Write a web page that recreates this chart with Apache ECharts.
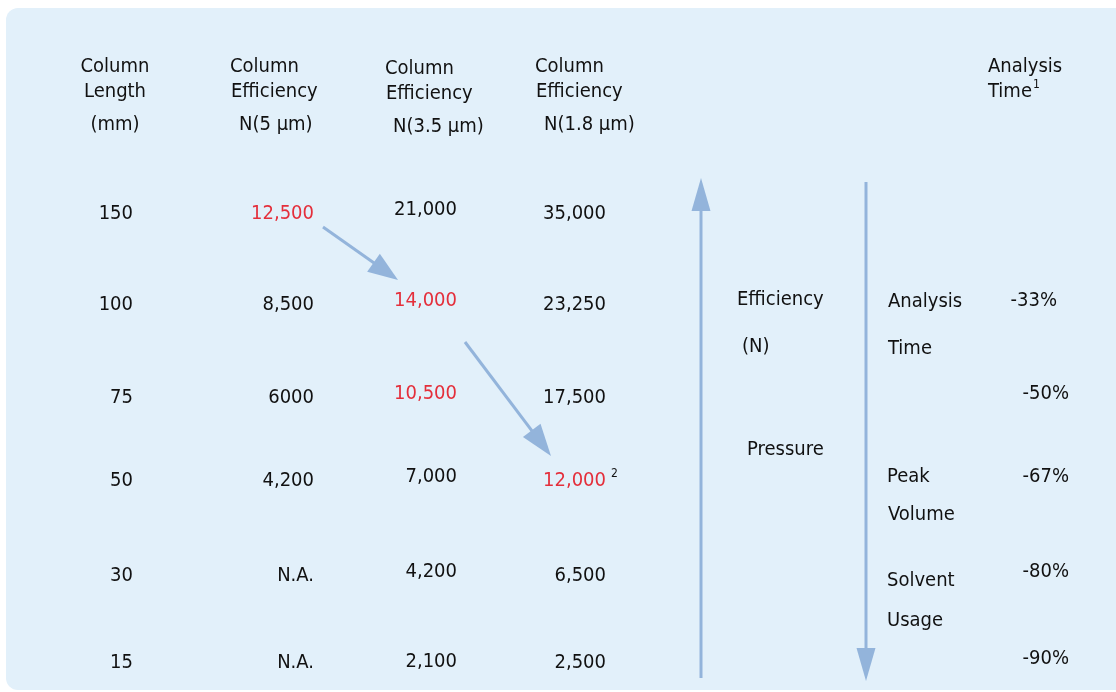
<!DOCTYPE html>
<html>
<head>
<meta charset="utf-8">
<script src="https://cdn.jsdelivr.net/npm/echarts@6/dist/echarts.min.js"></script>
<style>
  html, body { margin: 0; padding: 0; background: #fff; }
  #main { width: 1116px; height: 692px; }
</style>
</head>
<body>
<div id="main"></div>
<script>
// table values
var lengths = ['150', '100', '75', '50', '30', '15'];
var effN5 = ['12,500', '8,500', '6000', '4,200', 'N.A.', 'N.A.'];
var effN35 = ['21,000', '14,000', '10,500', '7,000', '4,200', '2,100'];
var effN18 = ['35,000', '23,250', '17,500', '12,000', '6,500', '2,500'];
var timeSavings = ['-33%', '-50%', '-67%', '-80%', '-90%'];
// which cells are red: [column, row]
var highlighted = [[1, 0], [2, 1], [2, 2], [3, 3]];

var headers = [
    ['Column', 'Length', '(mm)'],
    ['Column', 'Efficiency', 'N(5 \u00b5m)'],
    ['Column', 'Efficiency', 'N(3.5 \u00b5m)'],
    ['Column', 'Efficiency', 'N(1.8 \u00b5m)']
];

// layout (axis units = pixels of the 1116x692 panel)
var rowY = [214, 305, 398, 481, 576, 663];
var headY = [67, 92, 125];
var FONT = '"DejaVu Sans Condensed", "Liberation Sans Narrow", sans-serif';
var FS = 20;
var BLACK = '#111111';
var RED = '#e42f3b';
var ARROW = '#93b4db';

var items = [];
function txt(x, y, text, align, color, size) {
    items.push({
        value: [x, y],
        label: { formatter: text, align: align || 'left', color: color || BLACK, fontSize: size || FS }
    });
}
function isRed(c, r) {
    return highlighted.some(function (h) { return h[0] === c && h[1] === r; });
}

// headers
headers[0].forEach(function (t, i) { txt(115, headY[i], t, 'center'); });
[[230, 231, 239], [385, 386, 393], [535, 536, 544]].forEach(function (xs, c) {
    var dy = c === 1 ? 2 : 0;
    headers[c + 1].forEach(function (t, i) { txt(xs[i], headY[i] + dy, t, 'left'); });
});
txt(988, 67, 'Analysis');
txt(988, 92, 'Time');
txt(1033, 85, '1', 'left', BLACK, 12);

// table body
lengths.forEach(function (v, r) { txt(133, rowY[r], v, 'right'); });
effN5.forEach(function (v, r) { txt(314, rowY[r], v, 'right', isRed(1, r) ? RED : BLACK); });
effN35.forEach(function (v, r) {
    txt(457, rowY[r] - (r === 5 ? 1 : 4), v, 'right', isRed(2, r) ? RED : BLACK);
});
effN18.forEach(function (v, r) { txt(606, rowY[r], v, 'right', isRed(3, r) ? RED : BLACK); });
txt(611, 474, '2', 'left', BLACK, 12);

// right-hand annotations
txt(737, 300, 'Efficiency');
txt(742, 347, '(N)');
txt(747, 450, 'Pressure');
txt(888, 302, 'Analysis');
txt(888, 349, 'Time');
txt(887, 477, 'Peak');
txt(888, 515, 'Volume');
txt(887, 581, 'Solvent');
txt(887, 621, 'Usage');
var pctX = [1057, 1069, 1069, 1069, 1069];
var pctY = [301, 394, 477, 572, 659];
timeSavings.forEach(function (v, i) { txt(pctX[i], pctY[i], v, 'right'); });

// arrows: [x1, y1, x2(tip), y2(tip), headLength, headWidth]
var arrows = [
    [323, 227, 398, 280, 30, 22],
    [465, 342, 551, 456, 32, 22],
    [701, 678, 701, 178, 33, 19],
    [866, 182, 866, 681, 33, 19]
];

var chartDom = document.getElementById('main');
var myChart = echarts.init(chartDom);

var option = {
    backgroundColor: '#ffffff',
    animation: false,
    textStyle: { fontFamily: FONT },
    graphic: [{
        type: 'rect',
        z: -10,
        shape: { x: 6, y: 8, width: 1130, height: 682, r: 12 },
        style: { fill: '#e2f0fa' }
    }],
    grid: { left: 0, right: 0, top: 0, bottom: 0 },
    xAxis: { type: 'value', min: 0, max: 1116, show: false },
    yAxis: { type: 'value', min: 0, max: 692, inverse: true, show: false },
    series: [{
        type: 'custom',
        name: 'arrows',
        data: arrows,
        encode: { x: [0, 2], y: [1, 3] },
        renderItem: function (params, api) {
            var p1 = api.coord([api.value(0), api.value(1)]);
            var p2 = api.coord([api.value(2), api.value(3)]);
            var hl = api.value(4), hw = api.value(5);
            var dx = p2[0] - p1[0], dy = p2[1] - p1[1];
            var len = Math.sqrt(dx * dx + dy * dy);
            var ux = dx / len, uy = dy / len;
            var bx = p2[0] - ux * hl, by = p2[1] - uy * hl;
            return {
                type: 'group',
                children: [{
                    type: 'line',
                    shape: { x1: p1[0], y1: p1[1], x2: bx + ux * 2, y2: by + uy * 2 },
                    style: { stroke: ARROW, lineWidth: 3 }
                }, {
                    type: 'polygon',
                    shape: { points: [
                        [p2[0], p2[1]],
                        [bx - uy * hw / 2, by + ux * hw / 2],
                        [bx + uy * hw / 2, by - ux * hw / 2]
                    ] },
                    style: { fill: ARROW }
                }]
            };
        }
    }, {
        type: 'scatter',
        name: 'text',
        symbolSize: 0,
        itemStyle: { opacity: 1 },
        data: items,
        label: {
            show: true,
            position: 'inside',
            verticalAlign: 'middle',
            fontFamily: FONT
        }
    }]
};

myChart.setOption(option);
</script>
</body>
</html>
